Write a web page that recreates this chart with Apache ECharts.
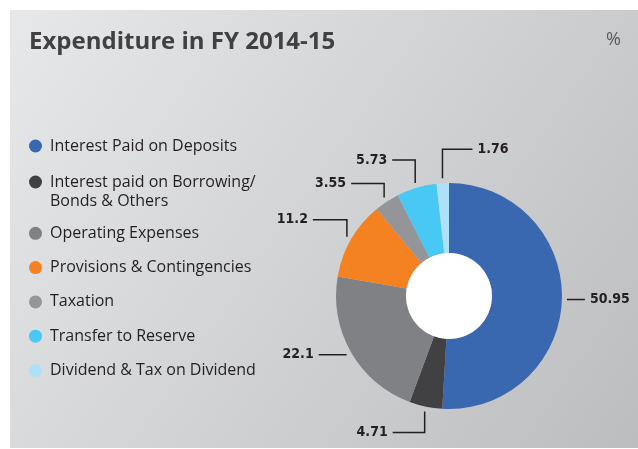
<!DOCTYPE html>
<html>
<head>
<meta charset="utf-8">
<script src="https://cdn.jsdelivr.net/npm/echarts@6/dist/echarts.min.js"></script>
<style>
  html, body { margin: 0; padding: 0; background: #fff; }
  #box1 { width: 638px; height: 449px; }
</style>
</head>
<body>
<div id="box1"></div>
<script>
/* expenditure donut */
var categories = [
    'Interest Paid on Deposits',
    'Interest paid on Borrowing/\nBonds & Others',
    'Operating Expenses',
    'Provisions & Contingencies',
    'Taxation',
    'Transfer to Reserve',
    'Dividend & Tax on Dividend'
];
var shares = [50.95, 4.71, 22.1, 11.2, 3.55, 5.73, 1.76];
var colors = ['#3a68b0', '#414042', '#808184', '#f58220', '#939598', '#48c8f5', '#aee1f9'];

// elbow of each label line: [vertical, horizontal] in px
var labelElbows = [[0, 18], [21, -32], [0, -28], [-17, -34], [-14, -33], [-23, -23], [-29, 30]];

var cx = 449, cy = 296, rOut = 113, rIn = 43;

var total = 0;
shares.forEach(function (v) { total += v; });
var before = [];
var acc = 0;
shares.forEach(function (v) { before.push(acc); acc += v; });

var dom = document.getElementById('box1');
var myChart = echarts.init(dom);

var labelFont = { fontFamily: "'DejaVu Sans Condensed', Roboto", fontWeight: 'bold', fontSize: 14, color: '#231f20' };
var legendText = { fontFamily: 'Open Sans', fontSize: 16, color: '#231f20', lineHeight: 19 };

option = {
    animation: false,
    graphic: [{
        type: 'rect',
        z: -10,
        silent: true,
        shape: { x: 10, y: 10, width: 628, height: 438 },
        style: {
            fill: {
                type: 'linear', x: 0, y: 0, x2: 1, y2: 1,
                colorStops: [{ offset: 0, color: '#e7e8e9' }, { offset: 1, color: '#bcbdbf' }]
            }
        }
    }],
    title: [{
        text: 'Expenditure in FY 2014-15',
        left: 29, top: 30, padding: 0,
        textStyle: { fontFamily: 'Open Sans', fontWeight: 'bold', fontSize: 24, color: '#414042' }
    }, {
        text: '%',
        left: 606, top: 31, padding: 0,
        textStyle: { fontFamily: 'Open Sans', fontWeight: 'normal', fontSize: 18, color: '#58595b' }
    }],
    legend: [{
        orient: 'vertical', left: 29, top: 136.5, padding: 0,
        itemWidth: 19, itemHeight: 13, itemGap: -2, icon: 'circle',
        textStyle: legendText,
        formatter: function (name) {
            // keep the dot next to the first line of a wrapped name
            return name.indexOf('\n') >= 0 ? '\n' + name : name;
        },
        data: categories.slice(0, 2)
    }, {
        orient: 'vertical', left: 29, top: 223.8, padding: 0,
        itemWidth: 19, itemHeight: 13, itemGap: 15.3, icon: 'circle',
        textStyle: legendText,
        data: categories.slice(2)
    }],
    series: [{
        type: 'pie',
        center: [cx, cy],
        radius: [rIn, rOut],
        startAngle: 90,
        clockwise: true,
        avoidLabelOverlap: false,
        silent: true,
        label: Object.assign({ show: true, position: 'outside', formatter: '{c}' }, labelFont),
        labelLine: { show: true, smooth: false, lineStyle: { color: '#231f20', width: 1.5 } },
        labelLayout: function (p) {
            var i = p.dataIndex;
            var a = (before[i] + shares[i] / 2) / total * Math.PI * 2;
            var ax = cx + (rOut + 5) * Math.sin(a);
            var ay = cy - (rOut + 5) * Math.cos(a);
            var e = labelElbows[i];
            var bx = ax, by = ay + e[0];
            var ex = bx + e[1], ey = by;
            return {
                x: ex + (e[1] > 0 ? 5 : -5),
                y: ey,
                align: e[1] > 0 ? 'left' : 'right',
                verticalAlign: 'middle',
                labelLinePoints: [[ax, ay], [bx, by], [ex, ey]]
            };
        },
        data: categories.map(function (name, i) {
            return { name: name, value: shares[i], itemStyle: { color: colors[i] } };
        })
    }, {
        type: 'pie',
        center: [cx, cy],
        radius: [0, rIn],
        silent: true,
        label: { show: false },
        labelLine: { show: false },
        data: [{ name: 'hole', value: 1, itemStyle: { color: '#ffffff' } }]
    }]
};

if (option && typeof option === "object") {
    myChart.setOption(option, true);
}
</script>
</body>
</html>
